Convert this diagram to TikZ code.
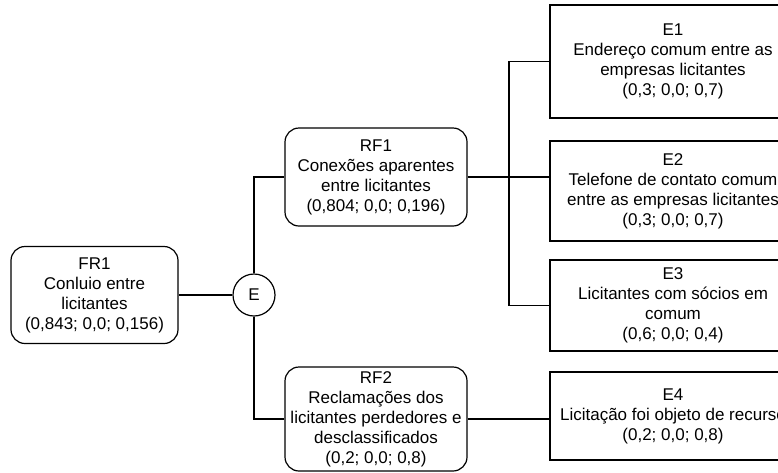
\documentclass[tikz,border=0pt]{standalone}
\usepackage{fontspec}
\setmainfont{Liberation Sans}
\tikzset{
  txt/.style={font=\fontsize{17}{20}\selectfont, align=center, inner sep=0pt},
  rbox/.style={txt, draw, rounded corners=14pt, minimum width=182pt},
  ebox/.style={txt, draw, minimum width=246pt},
}
\begin{document}
\begin{tikzpicture}[x=1pt,y=-1pt,line width=1.2pt]
\useasboundingbox (0,0) rectangle (778,472);
\clip (0,0) rectangle (778,472);
\node[rbox, minimum width=167pt, minimum height=97pt] (FR1) at (94.5,295) {FR1\\Conluio entre\\licitantes\\(0,843; 0,0; 0,156)};
\node[draw, circle, minimum size=42pt, inner sep=0pt, font=\fontsize{17}{20}\selectfont] (E) at (254,295) {E};
\node[rbox, minimum height=98pt] (RF1) at (376,177) {RF1\\Conexões aparentes\\entre licitantes\\(0,804; 0,0; 0,196)};
\node[rbox, minimum height=104pt] (RF2) at (376,419) {RF2\\Reclamações dos\\licitantes perdedores e\\desclassificados\\(0,2; 0,0; 0,8)};
\node[ebox, minimum height=113pt] (E1) at (673,61.5) {E1\\Endereço comum entre as\\empresas licitantes\\(0,3; 0,0; 0,7)};
\node[ebox, minimum height=100pt] (E2) at (673,191) {E2\\Telefone de contato comum\\entre as empresas licitantes\\(0,3; 0,0; 0,7)};
\node[ebox, minimum height=91pt] (E3) at (673,305.5) {E3\\Licitantes com sócios em\\comum\\(0,6; 0,0; 0,4)};
\node[ebox, minimum height=88pt] (E4) at (673,416) {E4\\Licitação foi objeto de recurso\\(0,2; 0,0; 0,8)};
\coordinate (J) at (509,177);
\draw (FR1.east) -- (E.west);
\draw (E.north) |- (RF1.west);
\draw (E.south) |- (RF2.west);
\draw (RF1.east) -- (RF1.east -| E2.west);
\draw (J) |- (E1.west);
\draw (J) |- (E3.west);
\draw (RF2.east) -- (RF2.east -| E4.west);
\end{tikzpicture}
\end{document}
